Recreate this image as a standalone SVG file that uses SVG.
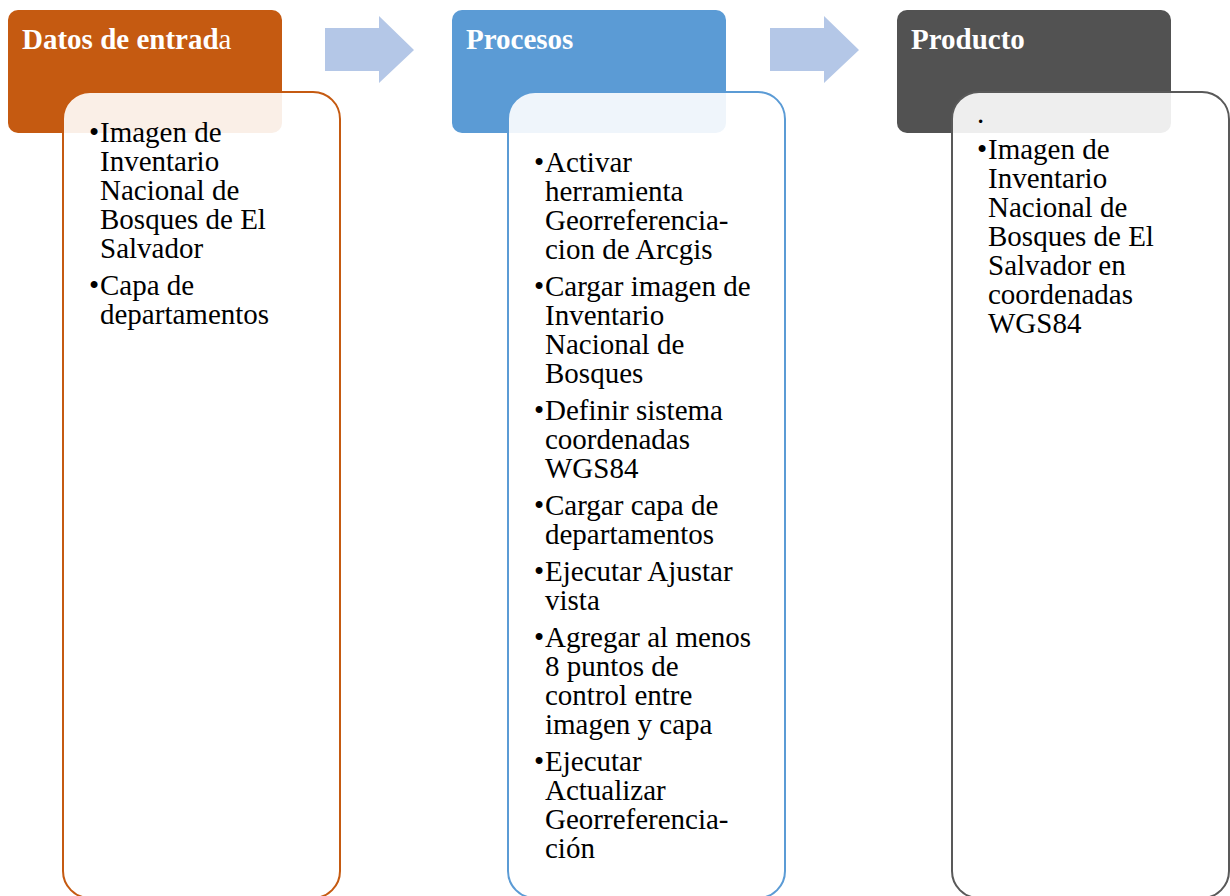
<svg xmlns="http://www.w3.org/2000/svg" width="1230" height="896" viewBox="0 0 1230 896">
<style>
.hdr{stroke:none}
.body{fill:#FFFFFF;fill-opacity:0.9;stroke-width:2}
.htxt{font-family:"Liberation Serif","Times New Roman",serif;font-size:29px;font-weight:bold;fill:#FFFFFF}
.btxt{font-family:"Liberation Serif","Times New Roman",serif;font-size:29px;fill:#000000}
.arrow{fill:#B4C7E7;stroke:none}
</style>
<rect width="1230" height="896" fill="#FFFFFF"/>
<g id="connectors">
<polygon class="arrow" points="325,28 379,28 379,16 414,50 379,83 379,71 325,71"/>
<polygon class="arrow" points="770,28 824,28 824,16 859,50 824,83 824,71 770,71"/>
</g>
<g id="node-datos">
<rect class="hdr" x="8" y="10" width="274" height="123" rx="10" fill="#C55A11"/>
<rect class="body" x="63" y="92" width="277" height="806" rx="27" stroke="#C55A11"/>
<text class="htxt" x="22" y="49">Datos de entrad<tspan font-weight="normal">a</tspan></text>
<text class="btxt">
<tspan x="89" y="142">•</tspan><tspan x="100" y="142">Imagen de</tspan>
<tspan x="100" y="171">Inventario</tspan>
<tspan x="100" y="200">Nacional de</tspan>
<tspan x="100" y="229">Bosques de El</tspan>
<tspan x="100" y="258">Salvador</tspan>
<tspan x="89" y="295">•</tspan><tspan x="100" y="295">Capa de</tspan>
<tspan x="100" y="324">departamentos</tspan>
</text>
</g>
<g id="node-procesos">
<rect class="hdr" x="452" y="10" width="274" height="123" rx="10" fill="#5B9BD5"/>
<rect class="body" x="508" y="92" width="277" height="806" rx="27" stroke="#5B9BD5"/>
<text class="htxt" x="466" y="49">Procesos</text>
<text class="btxt">
<tspan x="534" y="171.5">•</tspan><tspan x="545" y="171.5">Activar</tspan>
<tspan x="545" y="200.5">herramienta</tspan>
<tspan x="545" y="229.5">Georreferencia-</tspan>
<tspan x="545" y="258.5">cion de Arcgis</tspan>
<tspan x="534" y="295.5">•</tspan><tspan x="545" y="295.5">Cargar imagen de</tspan>
<tspan x="545" y="324.5">Inventario</tspan>
<tspan x="545" y="353.5">Nacional de</tspan>
<tspan x="545" y="382.5">Bosques</tspan>
<tspan x="534" y="419.5">•</tspan><tspan x="545" y="419.5">Definir sistema</tspan>
<tspan x="545" y="448.5">coordenadas</tspan>
<tspan x="545" y="477.5">WGS84</tspan>
<tspan x="534" y="514.5">•</tspan><tspan x="545" y="514.5">Cargar capa de</tspan>
<tspan x="545" y="543.5">departamentos</tspan>
<tspan x="534" y="580.5">•</tspan><tspan x="545" y="580.5">Ejecutar Ajustar</tspan>
<tspan x="545" y="609.5">vista</tspan>
<tspan x="534" y="646.5">•</tspan><tspan x="545" y="646.5">Agregar al menos</tspan>
<tspan x="545" y="675.5">8 puntos de</tspan>
<tspan x="545" y="704.5">control entre</tspan>
<tspan x="545" y="733.5">imagen y capa</tspan>
<tspan x="534" y="770.5">•</tspan><tspan x="545" y="770.5">Ejecutar</tspan>
<tspan x="545" y="799.5">Actualizar</tspan>
<tspan x="545" y="828.5">Georreferencia-</tspan>
<tspan x="545" y="857.5">ción</tspan>
</text>
</g>
<g id="node-producto">
<rect class="hdr" x="897" y="10" width="274" height="123" rx="10" fill="#525252"/>
<rect class="body" x="952" y="92" width="277" height="806" rx="27" stroke="#595959"/>
<text class="htxt" x="911" y="49">Producto</text>
<text class="btxt">
<tspan x="977" y="123">.</tspan>
<tspan x="977" y="159">•</tspan><tspan x="988" y="159">Imagen de</tspan>
<tspan x="988" y="188">Inventario</tspan>
<tspan x="988" y="217">Nacional de</tspan>
<tspan x="988" y="246">Bosques de El</tspan>
<tspan x="988" y="275">Salvador en</tspan>
<tspan x="988" y="304">coordenadas</tspan>
<tspan x="988" y="333">WGS84</tspan>
</text>
</g>
</svg>
